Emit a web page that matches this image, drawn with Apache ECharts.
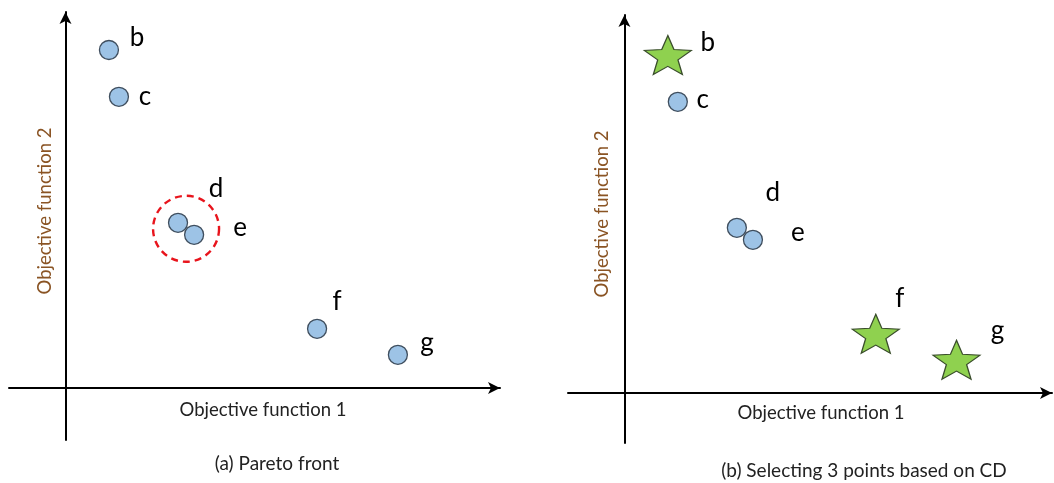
<!DOCTYPE html>
<html>
<head>
<meta charset="utf-8">
<script src="https://cdn.jsdelivr.net/npm/echarts@6/dist/echarts.min.js"></script>
<style>
html,body{margin:0;padding:0;background:#fff;}
#c{width:1054px;height:483px;}
</style>
</head>
<body>
<div id="c"></div>
<script>
// ---- data ----
var pointNames = ['b', 'c', 'd', 'e', 'f', 'g'];
var obj1Values = [1.00, 1.23, 2.59, 2.96, 5.79, 7.65];
var obj2Values = [8.45, 7.28, 4.13, 3.83, 1.48, 0.83];
var selectedPoints = ['b', 'f', 'g'];      // chosen by crowding distance
var crowdedPair = ['d', 'e'];               // highlighted cluster
var xAxisTitle = 'Objective function 1';
var yAxisTitle = 'Objective function 2';
var captionA = '(a) Pareto front';
var captionB = '(b) Selecting 3 points based on CD';

// ---- label offsets (style only) ----
var labelOffsetA = {b:[28,-12], c:[26,0], d:[38,-34], e:[46,-7], f:[20,-27], g:[29,-12]};
var labelOffsetB = {b:[40,-12], c:[25,-2], d:[36,-35], e:[45,-7], f:[24,-35], g:[41,-29]};

var STAR = 'path://M50 0 L62.3 32.5 L97.55 34.55 L70.5 56.5 L79.39 90.45 L50 71.5 L20.61 90.45 L29.5 56.5 L2.45 34.55 L37.7 32.5 Z';
var FONT = 'Lato, "Open Sans", sans-serif';

function pts(filterFn, offsets) {
  var out = [];
  for (var i = 0; i < pointNames.length; i++) {
    var n = pointNames[i];
    if (!filterFn(n)) continue;
    out.push({
      name: n,
      value: [obj1Values[i], obj2Values[i]],
      label: {offset: offsets[n]}
    });
  }
  return out;
}
var clusterCenter = (function () {
  var xs = 0, ys = 0;
  crowdedPair.forEach(function (n) {
    var i = pointNames.indexOf(n);
    xs += obj1Values[i]; ys += obj2Values[i];
  });
  return [xs / crowdedPair.length, ys / crowdedPair.length];
})();

var labelBase = {
  show: true, formatter: '{b}', position: 'inside',
  color: '#000', fontSize: 26, fontFamily: FONT
};
var circleStyle = {color: '#9dc3e6', borderColor: '#3f4e5e', borderWidth: 1.3, opacity: 1};
var starStyle = {color: '#8fd14f', borderColor: '#3a4d2c', borderWidth: 1.2, opacity: 1};

function makeX(idx, min, max) {
  return {
    type: 'value', gridIndex: idx, min: min, max: max,
    axisLine: {show: true, onZero: true, symbol: ['none', 'arrow'], symbolSize: [9, 12],
      lineStyle: {color: '#000', width: 2}},
    axisTick: {show: false}, axisLabel: {show: false}, splitLine: {show: false}
  };
}
function makeY(idx, min, max) {
  return {
    type: 'value', gridIndex: idx, min: min, max: max,
    axisLine: {show: true, onZero: true, symbol: ['none', 'arrow'], symbolSize: [9, 12],
      lineStyle: {color: '#000', width: 2}},
    axisTick: {show: false}, axisLabel: {show: false}, splitLine: {show: false}
  };
}
function axisText(txt, x, y, rot, color) {
  return {
    type: 'text', x: x, y: y, rotation: rot, silent: true,
    style: {text: txt, fill: color, font: '18.5px ' + FONT, align: 'center', verticalAlign: 'middle'}
  };
}

var chart = echarts.init(document.getElementById('c'), null, {renderer: 'canvas'});
chart.setOption({
  backgroundColor: '#fff',
  animation: false,
  title: [
    {text: captionA, left: 277, top: 454, textAlign: 'center', padding: 0,
      textStyle: {color: '#222', fontSize: 19, fontWeight: 'normal', fontFamily: FONT}},
    {text: captionB, left: 864, top: 461, textAlign: 'center', padding: 0,
      textStyle: {color: '#222', fontSize: 19, fontWeight: 'normal', fontFamily: FONT}}
  ],
  grid: [
    {left: 9, top: 12, width: 491, height: 428, outerBoundsMode: 'none', containLabel: false},
    {left: 568, top: 15, width: 484, height: 428, outerBoundsMode: 'none', containLabel: false}
  ],
  xAxis: [makeX(0, -1.3, 10.0), makeX(1, -1.3, 9.85)],
  yAxis: [makeY(0, -1.3, 9.4), makeY(1, -1.25, 9.45)],
  graphic: [
    axisText(xAxisTitle, 263, 410, 0, '#222'),
    axisText(xAxisTitle, 821, 413, 0, '#222'),
    axisText(yAxisTitle, 45, 211, Math.PI / 2, '#8a5424'),
    axisText(yAxisTitle, 602, 214, Math.PI / 2, '#8a5424')
  ],
  series: [
    {
      type: 'scatter', xAxisIndex: 0, yAxisIndex: 0,
      symbol: 'circle', symbolSize: 66, silent: true,
      itemStyle: {color: 'transparent', borderColor: '#e8141c', borderWidth: 2.4, borderType: [7, 5], opacity: 1},
      data: [clusterCenter], z: 1
    },
    {
      type: 'scatter', xAxisIndex: 0, yAxisIndex: 0,
      symbol: 'circle', symbolSize: 19, itemStyle: circleStyle, label: labelBase,
      data: pts(function () { return true; }, labelOffsetA), z: 2
    },
    {
      type: 'scatter', xAxisIndex: 1, yAxisIndex: 1,
      symbol: 'circle', symbolSize: 19, itemStyle: circleStyle, label: labelBase,
      data: pts(function (n) { return selectedPoints.indexOf(n) < 0; }, labelOffsetB), z: 2
    },
    {
      type: 'scatter', xAxisIndex: 1, yAxisIndex: 1,
      symbol: STAR, symbolSize: [47, 39], symbolKeepAspect: false,
      itemStyle: starStyle, label: labelBase,
      data: pts(function (n) { return selectedPoints.indexOf(n) >= 0; }, labelOffsetB), z: 2
    }
  ]
});
</script>
</body>
</html>
